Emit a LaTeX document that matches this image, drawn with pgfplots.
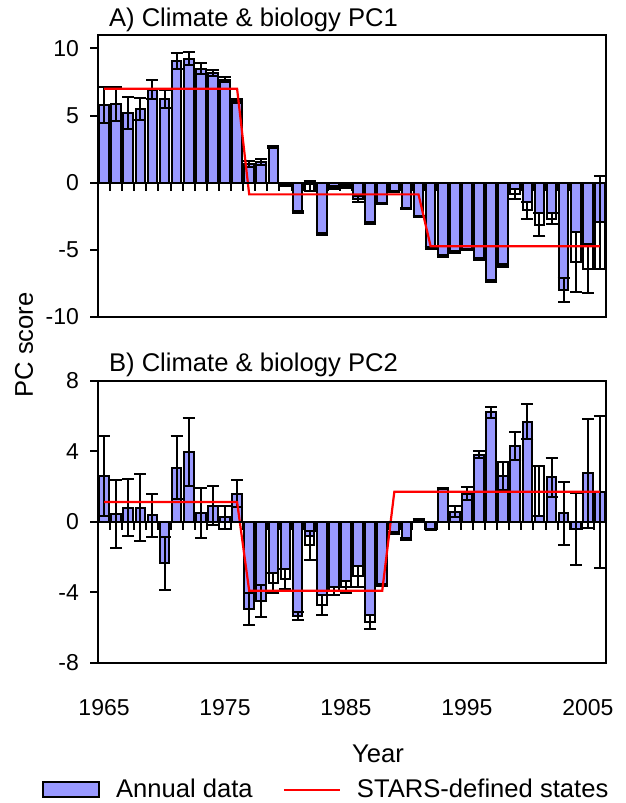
\documentclass[border=0pt]{standalone}
\usepackage{pgfplots}
\pgfplotsset{compat=1.18}
\usepackage{pgfplotstable}
\usepackage{fontspec}
\setmainfont{Liberation Sans}
\definecolor{barblue}{RGB}{153,153,255}

% year a = bar value, w = outline extent, c = error-bar centre, e = error
\pgfplotstableread{
year a w c e
1965 5.81 5.81 5.81 1.35
1966 5.85 5.85 5.85 1.25
1967 5.19 5.19 5.19 1.18
1968 5.49 5.49 5.49 0.82
1969 6.93 6.93 6.93 0.69
1970 6.24 6.24 6.24 0.70
1971 9.05 9.05 9.05 0.60
1972 9.23 9.23 9.23 0.50
1973 8.48 8.48 8.48 0.42
1974 8.18 8.18 8.18 0.25
1975 7.68 7.68 7.68 0.18
1976 6.10 6.10 6.10 0.16
1977 1.40 1.40 1.40 0.20
1978 1.57 1.57 1.57 0.22
1979 2.65 2.65 2.65 0.05
1980 -0.20 -0.20 -0.20 0.08
1981 -2.17 -2.17 -2.17 0.05
1982 -0.10 -0.62 -0.25 0.37
1983 -3.84 -3.84 -3.84 0.07
1984 -0.35 -0.35 -0.35 0.10
1985 -0.30 -0.30 -0.30 0.10
1986 -1.20 -1.20 -1.20 0.20
1987 -2.99 -2.99 -2.99 0.05
1988 -1.54 -1.54 -1.54 0.04
1989 -0.67 -0.67 -0.67 0.04
1990 -1.92 -1.92 -1.92 0.04
1991 -2.49 -2.49 -2.49 0.04
1992 -4.86 -4.86 -4.86 0.04
1993 -5.46 -5.46 -5.46 0.04
1994 -5.16 -5.16 -5.16 0.05
1995 -4.98 -4.98 -4.98 0.05
1996 -5.66 -5.66 -5.66 0.08
1997 -7.33 -7.33 -7.33 0.10
1998 -6.16 -6.16 -6.16 0.08
1999 -0.45 -0.85 -0.85 0.40
2000 -1.40 -2.04 -2.04 0.64
2001 -2.29 -3.12 -3.12 0.85
2002 -2.29 -2.69 -2.69 0.40
2003 -7.98 -7.98 -7.98 0.90
2004 -3.66 -5.90 -5.90 2.24
2005 -4.55 -6.40 -6.40 1.85
2006 -2.95 -6.45 -2.95 3.45
}\tableA

\pgfplotstableread{
year a w c e
1965 2.60 2.60 2.60 2.27
1966 0.44 0.44 0.44 1.93
1967 0.80 0.80 0.80 1.63
1968 0.80 0.80 0.80 1.92
1969 0.36 0.36 0.36 1.23
1970 -2.37 -2.37 -2.37 1.52
1971 3.07 3.07 3.07 1.80
1972 3.96 3.96 3.96 1.95
1973 0.50 0.50 0.50 1.42
1974 0.91 0.91 0.91 1.12
1975 0.25 0.25 0.25 0.64
1976 1.59 1.59 1.59 0.78
1977 -4.95 -4.95 -4.95 0.92
1978 -4.49 -4.49 -4.49 0.90
1979 -2.90 -3.47 -3.47 0.57
1980 -2.70 -3.25 -3.25 0.55
1981 -5.36 -5.36 -5.36 0.22
1982 -0.80 -1.35 -1.35 0.80
1983 -4.16 -4.73 -4.73 0.57
1984 -3.69 -3.93 -3.93 0.24
1985 -3.35 -3.69 -3.69 0.34
1986 -2.50 -3.10 -3.10 0.60
1987 -5.30 -5.68 -5.68 0.38
1988 -3.60 -3.60 -3.60 0.05
1989 -0.66 -0.66 -0.66 0.05
1990 -1.00 -1.00 -1.00 0.05
1991 0.13 0.13 0.13 0.03
1992 -0.43 -0.43 -0.43 0.03
1993 1.90 1.90 1.90 0.03
1994 0.57 0.57 0.57 0.30
1995 1.60 1.60 1.60 0.35
1996 3.80 3.80 3.80 0.20
1997 6.20 6.20 6.20 0.33
1998 2.60 3.40 2.60 0.81
1999 4.30 4.30 4.30 0.80
2000 5.68 5.68 5.68 1.00
2001 0.32 3.16 1.74 1.42
2002 2.52 2.52 2.52 1.10
2003 0.47 0.47 0.47 1.80
2004 -0.43 -0.43 -0.43 2.04
2005 2.75 2.75 2.75 3.10
2006 1.70 1.70 1.70 4.30
}\tableB

\pgfplotstableread{
year s
1965 7.00
1976 7.00
1977 -0.87
1991 -0.87
1992 -4.73
2006 -4.73
}\starsA

\pgfplotstableread{
year s
1965 1.12
1976 1.12
1977 -3.92
1988 -3.92
1989 1.70
2006 1.70
}\starsB

\pgfplotsset{
  panel/.style={
    scale only axis, width=254pt, height=141pt, anchor=north west,
    xmin=1964.5, xmax=2006.5,
    axis line style={line width=1.1pt},
    ytick pos=left, tick align=outside, major tick length=4pt,
    tick style={line width=1pt, black},
    x tick style={draw=none},
    xtick={1965,1975,...,2005},
    /pgf/number format/assume math mode=true,
    /pgf/number format/1000 sep={},
    ticklabel style={font=\fontsize{11.5}{13}\selectfont},
    yticklabel style={xshift=-2pt},
    xticklabel style={yshift=-11pt},
    title style={font=\fontsize{12.8}{15}\selectfont, at={(0,1)}, anchor=base west, xshift=2pt, yshift=-1.5pt},
  },
  zeroline/.style={
    scale only axis, width=254pt, height=141pt, anchor=north west,
    xmin=1964.5, xmax=2006.5,
    axis x line=middle, axis y line=none,
    axis line style={-, line width=1.1pt},
    xtick={1964.5,1965.5,...,2006.5}, xticklabels={}, ytick=\empty,
    major tick length=4pt, tick align=outside,
    tick style={line width=1pt, black},
  },
  whitebar/.style={ybar, bar width=4.8pt, bar shift=0pt, fill=white, draw=black, line width=1pt, forget plot},
  bluebar/.style={ybar, bar width=4.8pt, bar shift=0pt, fill=barblue, draw=black, line width=1pt, forget plot},
  errs/.style={forget plot, draw=none, mark=none,
    error bars/.cd, y dir=both, y explicit,
    error bar style={draw=black, line width=1pt},
    error mark options={rotate=90, mark size=3pt, draw=black, line width=1pt}},
}

\begin{document}
\begin{tikzpicture}
\path[use as bounding box] (0,0) rectangle (313pt,-401.5pt);

% Panel A
\begin{axis}[panel, at={(49pt,-17.5pt)}, ymin=-10, ymax=11, ytick={-10,-5,0,5,10},
  xticklabels={}, title={A) Climate \& biology PC1}]
\addplot[whitebar] table[x=year, y=w]{\tableA};
\addplot[bluebar] table[x=year, y=a]{\tableA};
\addplot[errs] table[x=year, y=c, y error=e]{\tableA};
\addplot[red, line width=1.1pt, forget plot] table[x=year, y=s]{\starsA};
\end{axis}
\begin{axis}[zeroline, at={(49pt,-17.5pt)}, ymin=-10, ymax=11]
\end{axis}

% Panel B
\begin{axis}[panel, at={(49pt,-190.35pt)}, ymin=-8, ymax=8, ytick={-8,-4,0,4,8},
  title={B) Climate \& biology PC2},
  legend columns=2,
  legend style={at={(-0.110,-0.451)}, anchor=west, draw=none, fill=none,
    inner sep=0pt, outer sep=0pt, font=\fontsize{12.8}{15}\selectfont,
    /tikz/every odd column/.append style={column sep=6pt},
    /tikz/every even column/.append style={column sep=13pt}},
  legend cell align=left]
\addplot[whitebar] table[x=year, y=w]{\tableB};
\addplot[bluebar] table[x=year, y=a]{\tableB};
\addplot[errs] table[x=year, y=c, y error=e]{\tableB};
\addplot[red, line width=1.1pt, forget plot] table[x=year, y=s]{\starsB};
\addlegendimage{legend image code/.code={\draw[fill=barblue, draw=black, line width=1pt] (0pt,-3.75pt) rectangle (28pt,3.75pt);}}
\addlegendentry{Annual data}
\addlegendimage{legend image code/.code={\draw[red, line width=1.1pt] (0pt,0pt) -- (28pt,0pt);}}
\addlegendentry{STARS-defined states}
\end{axis}
\begin{axis}[zeroline, at={(49pt,-190.35pt)}, ymin=-8, ymax=8]
\end{axis}

\node[rotate=90, font=\fontsize{12.8}{15}\selectfont] at (12pt,-172.5pt) {PC score};
\node[font=\fontsize{12.8}{15}\selectfont] at (189pt,-377pt) {Year};
\end{tikzpicture}
\end{document}
